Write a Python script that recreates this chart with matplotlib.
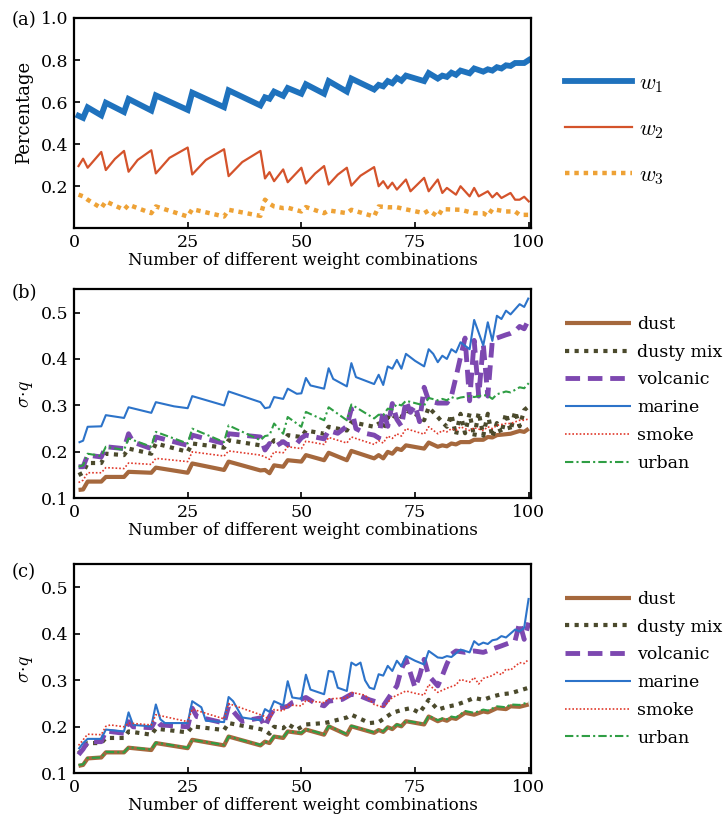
import matplotlib
matplotlib.use("Agg")
import matplotlib.pyplot as plt

# ---- panel (a): weight shares, corner points ----
w1_x = [1, 2, 3, 6, 7, 11, 12, 17, 18, 25, 26, 33, 34, 41, 42, 43, 44, 46, 47, 50, 51, 55, 56, 60, 61, 66, 67, 68, 69, 70,
        71, 72, 73, 77, 78, 80, 81, 82, 83, 84, 85, 87, 88, 90, 91, 92, 93, 94, 95, 96, 97, 99, 100]
w1_y = [0.535, 0.525, 0.575, 0.537, 0.597, 0.553, 0.615, 0.56, 0.632, 0.563, 0.645, 0.576, 0.656, 0.584, 0.623, 0.616,
        0.65, 0.63, 0.667, 0.64, 0.685, 0.64, 0.70, 0.65, 0.712, 0.66, 0.682, 0.675, 0.70, 0.69, 0.715, 0.702, 0.726,
        0.70, 0.738, 0.712, 0.726, 0.72, 0.74, 0.73, 0.75, 0.737, 0.76, 0.745, 0.756, 0.75, 0.766, 0.76, 0.775, 0.772,
        0.786, 0.786, 0.80]

w2_x = [1, 2, 3, 6, 7, 9, 11, 12, 14, 17, 18, 21, 25, 26, 29, 33, 34, 37, 41, 42, 43, 44, 46, 47, 50, 51, 53, 55, 56, 58,
        60, 61, 63, 66, 67, 68, 69, 70, 71, 73, 74, 77, 78, 80, 81, 82, 84, 85, 87, 88, 89, 91, 92, 93, 94, 96, 97, 98,
        99, 100]
w2_y = [0.296, 0.331, 0.288, 0.363, 0.277, 0.33, 0.368, 0.269, 0.325, 0.371, 0.261, 0.335, 0.384, 0.256, 0.325, 0.376,
        0.248, 0.315, 0.368, 0.237, 0.267, 0.224, 0.28, 0.219, 0.288, 0.213, 0.26, 0.296, 0.208, 0.255, 0.288, 0.203,
        0.25, 0.291, 0.20, 0.224, 0.19, 0.217, 0.184, 0.232, 0.176, 0.24, 0.176, 0.232, 0.168, 0.192, 0.16, 0.20, 0.152,
        0.192, 0.152, 0.176, 0.147, 0.168, 0.144, 0.168, 0.136, 0.136, 0.15, 0.128]

w3_x = [1, 2, 3, 6, 7, 11, 12, 17, 18, 25, 26, 33, 34, 41, 42, 43, 44, 46, 47, 50, 51, 55, 56, 60, 61, 66, 67, 69, 71, 73,
        77, 78, 80, 81, 85, 88, 90, 91, 92, 95, 97, 98, 100]
w3_y = [0.16, 0.152, 0.136, 0.096, 0.128, 0.088, 0.112, 0.072, 0.104, 0.056, 0.091, 0.056, 0.088, 0.059, 0.136, 0.117,
        0.104, 0.096, 0.098, 0.08, 0.101, 0.072, 0.085, 0.072, 0.088, 0.056, 0.104, 0.10, 0.10, 0.09, 0.072, 0.085,
        0.056, 0.091, 0.088, 0.072, 0.072, 0.059, 0.091, 0.08, 0.08, 0.064, 0.064]

# ---- panel (b) ----
b_dust_x = [1, 2, 3, 6, 7, 11, 12, 17, 18, 25, 26, 33, 34, 41, 42, 43, 44, 46, 47, 50, 51, 55, 56, 60, 61, 66, 67, 68, 69,
            70, 71, 72, 73, 77, 78, 80, 81, 82, 83, 84, 85, 87, 88, 90, 91, 92, 93, 95, 96, 98, 99, 100]
b_dust_y = [0.118, 0.119, 0.136, 0.136, 0.146, 0.146, 0.157, 0.155, 0.166, 0.155, 0.175, 0.161, 0.179, 0.16, 0.161,
            0.154, 0.171, 0.168, 0.182, 0.179, 0.193, 0.182, 0.198, 0.182, 0.202, 0.186, 0.193, 0.186, 0.20, 0.196,
            0.207, 0.204, 0.214, 0.207, 0.22, 0.211, 0.214, 0.212, 0.218, 0.216, 0.221, 0.221, 0.226, 0.226, 0.232,
            0.231, 0.236, 0.238, 0.239, 0.245, 0.243, 0.25]

b_dusty_x = [1, 2, 3, 6, 7, 11, 12, 17, 18, 25, 26, 33, 34, 41, 42, 43, 44, 46, 47, 50, 51, 55, 56, 60, 61, 66, 67, 68,
             69, 70, 71, 72, 73, 75, 77, 78, 80, 81, 82, 83, 84, 85, 86, 87, 88, 89, 90, 91, 92, 93, 94, 95, 96, 97, 98,
             99, 100]
b_dusty_y = [0.15, 0.155, 0.176, 0.176, 0.196, 0.193, 0.207, 0.196, 0.218, 0.20, 0.218, 0.209, 0.225, 0.214, 0.211,
             0.211, 0.225, 0.221, 0.236, 0.232, 0.246, 0.239, 0.254, 0.246, 0.264, 0.254, 0.261, 0.25, 0.275, 0.268,
             0.282, 0.275, 0.289, 0.282, 0.268, 0.296, 0.275, 0.264, 0.254, 0.28, 0.236, 0.282, 0.24, 0.283, 0.232,
             0.285, 0.235, 0.282, 0.232, 0.262, 0.24, 0.283, 0.245, 0.287, 0.255, 0.29, 0.298]

b_volc_x = [1, 2, 3, 6, 7, 11, 12, 13, 17, 18, 25, 26, 33, 34, 41, 42, 43, 44, 46, 47, 49, 50, 51, 53, 55, 56, 58, 60, 61,
            62, 64, 66, 67, 68, 69, 70, 71, 72, 73, 74, 75, 76, 77, 78, 80, 82, 83, 84, 85, 86, 87, 88, 89, 90, 91, 92,
            93, 95, 96, 97, 98, 99, 100]
b_volc_y = [0.168, 0.168, 0.193, 0.189, 0.211, 0.207, 0.239, 0.221, 0.207, 0.232, 0.214, 0.236, 0.218, 0.239, 0.232,
            0.204, 0.218, 0.21, 0.222, 0.215, 0.218, 0.23, 0.236, 0.232, 0.228, 0.246, 0.24, 0.255, 0.293, 0.25, 0.24,
            0.236, 0.23, 0.289, 0.255, 0.304, 0.27, 0.255, 0.31, 0.285, 0.30, 0.265, 0.339, 0.31, 0.305, 0.305, 0.32,
            0.361, 0.404, 0.445, 0.31, 0.44, 0.32, 0.432, 0.32, 0.44, 0.445, 0.452, 0.455, 0.46, 0.47, 0.465, 0.485]

b_marine_x = [1, 2, 3, 6, 7, 11, 12, 17, 18, 22, 25, 26, 33, 34, 41, 42, 43, 44, 46, 47, 49, 50, 51, 52, 55, 56, 57, 60,
              61, 62, 66, 67, 68, 69, 70, 71, 72, 73, 75, 77, 78, 79, 80, 81, 82, 83, 84, 85, 87, 88, 90, 91, 92, 93, 94,
              95, 96, 98, 99, 100]
b_marine_y = [0.22, 0.224, 0.254, 0.255, 0.279, 0.273, 0.296, 0.284, 0.307, 0.298, 0.294, 0.32, 0.30, 0.33, 0.307,
              0.294, 0.296, 0.318, 0.314, 0.336, 0.325, 0.326, 0.359, 0.343, 0.336, 0.38, 0.357, 0.341, 0.391, 0.361,
              0.346, 0.366, 0.344, 0.384, 0.379, 0.398, 0.379, 0.411, 0.396, 0.384, 0.421, 0.411, 0.393, 0.407, 0.40,
              0.421, 0.414, 0.436, 0.421, 0.484, 0.429, 0.479, 0.439, 0.493, 0.486, 0.504, 0.496, 0.518, 0.512, 0.532]

b_smoke_x = [1, 2, 3, 6, 7, 11, 12, 17, 18, 25, 26, 33, 34, 41, 42, 43, 44, 46, 47, 50, 51, 55, 56, 60, 61, 66, 67, 68,
             69, 70, 71, 72, 73, 77, 78, 80, 81, 82, 83, 84, 85, 87, 88, 90, 91, 92, 93, 95, 96, 98, 99, 100]
b_smoke_y = [0.134, 0.139, 0.155, 0.155, 0.166, 0.164, 0.176, 0.173, 0.186, 0.179, 0.20, 0.191, 0.202, 0.193, 0.189,
             0.184, 0.20, 0.198, 0.211, 0.207, 0.223, 0.216, 0.231, 0.219, 0.232, 0.216, 0.224, 0.219, 0.234, 0.229,
             0.239, 0.234, 0.25, 0.238, 0.254, 0.239, 0.246, 0.243, 0.25, 0.246, 0.254, 0.246, 0.252, 0.246, 0.254,
             0.25, 0.257, 0.261, 0.261, 0.268, 0.268, 0.271]

b_urban_x = [1, 2, 3, 6, 7, 11, 12, 17, 18, 25, 26, 33, 34, 41, 42, 43, 44, 46, 47, 50, 51, 55, 56, 60, 61, 66, 67, 68,
             69, 70, 71, 72, 73, 77, 78, 80, 81, 82, 83, 84, 85, 87, 88, 90, 91, 92, 93, 95, 96, 98, 99, 100]
b_urban_y = [0.168, 0.171, 0.196, 0.191, 0.211, 0.204, 0.229, 0.211, 0.243, 0.218, 0.25, 0.221, 0.257, 0.225, 0.234,
             0.236, 0.261, 0.239, 0.275, 0.254, 0.286, 0.268, 0.296, 0.268, 0.302, 0.272, 0.28, 0.279, 0.293, 0.291,
             0.303, 0.30, 0.31, 0.30, 0.316, 0.311, 0.314, 0.311, 0.318, 0.314, 0.317, 0.32, 0.318, 0.322, 0.321,
             0.314, 0.324, 0.33, 0.328, 0.339, 0.337, 0.348]

# ---- panel (c) ----
c_dust_x = [1, 2, 3, 6, 7, 11, 12, 17, 18, 25, 26, 33, 34, 41, 42, 43, 44, 46, 47, 50, 51, 55, 56, 60, 61, 66, 67, 68, 69,
            70, 71, 72, 73, 77, 78, 80, 81, 82, 83, 84, 86, 88, 90, 91, 93, 95, 96, 98, 100]
c_dust_y = [0.116, 0.118, 0.132, 0.134, 0.145, 0.145, 0.155, 0.15, 0.165, 0.154, 0.172, 0.16, 0.179, 0.16, 0.168, 0.165,
            0.179, 0.176, 0.19, 0.186, 0.194, 0.183, 0.201, 0.183, 0.201, 0.187, 0.193, 0.189, 0.199, 0.195, 0.204,
            0.201, 0.212, 0.205, 0.222, 0.212, 0.216, 0.213, 0.219, 0.217, 0.23, 0.226, 0.233, 0.231, 0.24, 0.238,
            0.244, 0.243, 0.248]

c_dusty_x = [1, 2, 3, 6, 7, 11, 12, 17, 18, 25, 26, 33, 34, 41, 42, 43, 44, 46, 47, 49, 51, 55, 56, 60, 61, 65, 67, 70,
             72, 74, 76, 78, 80, 82, 84, 86, 88, 90, 92, 94, 96, 98, 100]
c_dusty_y = [0.143, 0.152, 0.165, 0.165, 0.176, 0.176, 0.19, 0.183, 0.196, 0.188, 0.201, 0.193, 0.208, 0.195, 0.192,
             0.185, 0.20, 0.197, 0.206, 0.194, 0.205, 0.208, 0.21, 0.22, 0.226, 0.208, 0.21, 0.23, 0.236, 0.24, 0.23,
             0.258, 0.237, 0.243, 0.247, 0.254, 0.262, 0.258, 0.265, 0.27, 0.272, 0.278, 0.284]

c_volc_x = [1, 2, 3, 6, 7, 11, 12, 13, 17, 18, 19, 25, 26, 27, 33, 34, 36, 37, 41, 42, 43, 44, 47, 48, 51, 53, 55, 56, 59,
            61, 63, 65, 67, 68, 70, 71, 72, 73, 74, 75, 76, 77, 78, 80, 81, 82, 83, 84, 86, 88, 90, 92, 94, 97, 98, 99,
            100]
c_volc_y = [0.14, 0.152, 0.168, 0.168, 0.191, 0.186, 0.211, 0.2, 0.198, 0.216, 0.204, 0.2, 0.24, 0.222, 0.208, 0.245,
            0.222, 0.212, 0.219, 0.2, 0.222, 0.238, 0.244, 0.252, 0.263, 0.251, 0.245, 0.255, 0.259, 0.27, 0.266, 0.258,
            0.252, 0.245, 0.274, 0.288, 0.324, 0.345, 0.315, 0.284, 0.31, 0.345, 0.31, 0.288, 0.31, 0.335, 0.356,
            0.363, 0.36, 0.363, 0.36, 0.367, 0.374, 0.385, 0.424, 0.388, 0.424]

c_marine_x = [1, 2, 3, 6, 7, 11, 12, 13, 17, 18, 19, 20, 25, 26, 28, 29, 33, 34, 35, 37, 41, 42, 43, 44, 46, 47, 48, 50,
              51, 52, 55, 56, 57, 58, 60, 61, 62, 63, 64, 65, 66, 67, 68, 69, 70, 71, 72, 73, 75, 77, 78, 80, 81, 82, 83,
              85, 87, 88, 89, 90, 91, 92, 93, 94, 95, 97, 98, 99, 100]
c_marine_y = [0.152, 0.165, 0.174, 0.174, 0.194, 0.19, 0.231, 0.204, 0.201, 0.248, 0.216, 0.208, 0.208, 0.255, 0.242,
              0.213, 0.21, 0.264, 0.255, 0.22, 0.214, 0.238, 0.232, 0.255, 0.246, 0.298, 0.263, 0.26, 0.312, 0.28, 0.27,
              0.32, 0.318, 0.284, 0.277, 0.338, 0.332, 0.338, 0.30, 0.284, 0.281, 0.313, 0.31, 0.331, 0.32, 0.342, 0.33,
              0.352, 0.342, 0.334, 0.363, 0.349, 0.348, 0.352, 0.35, 0.366, 0.36, 0.384, 0.376, 0.381, 0.378, 0.386,
              0.388, 0.395, 0.392, 0.409, 0.405, 0.413, 0.477]

c_smoke_x = [1, 2, 3, 6, 7, 8, 11, 12, 17, 18, 25, 26, 33, 34, 41, 42, 43, 44, 46, 47, 50, 51, 55, 56, 60, 61, 64, 66, 68,
             70, 73, 75, 77, 78, 80, 82, 84, 85, 87, 88, 89, 90, 92, 93, 94, 95, 96, 98, 99, 100]
c_smoke_y = [0.16, 0.172, 0.184, 0.183, 0.201, 0.204, 0.2, 0.208, 0.204, 0.226, 0.211, 0.238, 0.217, 0.25, 0.226, 0.222,
             0.215, 0.237, 0.234, 0.247, 0.245, 0.256, 0.252, 0.26, 0.262, 0.274, 0.268, 0.248, 0.242, 0.263, 0.277,
             0.272, 0.268, 0.291, 0.274, 0.283, 0.29, 0.302, 0.296, 0.306, 0.292, 0.304, 0.31, 0.317, 0.312, 0.324,
             0.322, 0.338, 0.336, 0.345]

c_urban_x = c_dust_x
c_urban_y = [0.118, 0.119, 0.133, 0.134, 0.146, 0.145, 0.156, 0.151, 0.166, 0.155, 0.172, 0.161, 0.179, 0.161, 0.168,
             0.166, 0.18, 0.177, 0.19, 0.187, 0.195, 0.184, 0.202, 0.184, 0.202, 0.188, 0.194, 0.19, 0.2, 0.196, 0.205,
             0.202, 0.213, 0.206, 0.224, 0.214, 0.218, 0.216, 0.222, 0.22, 0.234, 0.23, 0.237, 0.235, 0.244, 0.242,
             0.248, 0.247, 0.253]

aerosols = ["dust", "dusty mix", "volcanic", "marine", "smoke", "urban"]
x_ticks = [0, 25, 50, 75, 100]
xlabel = "Number of different weight combinations"

# line styles (colour, width, dash)
styles = {
    "dust": dict(color="#a5683d", lw=3.0, ls="-"),
    "dusty mix": dict(color="#4b4a2c", lw=3.0, ls=(0, (1, 1.3))),
    "volcanic": dict(color="#7d48b0", lw=3.5, ls=(0, (3, 1.6))),
    "marine": dict(color="#2c73c9", lw=1.5, ls="-"),
    "smoke": dict(color="#e0392b", lw=1.2, ls=(0, (1, 1.2))),
    "urban": dict(color="#2f9e44", lw=1.5, ls=(0, (4, 1.5, 1, 1.5))),
}


def style_axes(ax, ylim, yticks):
    ax.set_xlim(0, 100.5)
    ax.set_ylim(*ylim)
    ax.set_xticks(x_ticks)
    ax.set_yticks(yticks)
    ax.tick_params(direction="in", length=4, width=1.2, top=False, right=False, labelsize=12.5, pad=4)
    for s in ax.spines.values():
        s.set_linewidth(1.6)
    ax.set_xlabel(xlabel, fontsize=12, labelpad=1)


def panel(ax, data):
    for name in aerosols:
        xs, ys = data[name]
        st = styles[name]
        ax.plot(xs, ys, color=st["color"], lw=st["lw"], linestyle=st["ls"], label=name,
                solid_capstyle="butt", dash_capstyle="butt")
    style_axes(ax, (0.1, 0.55), [0.1, 0.2, 0.3, 0.4, 0.5])
    ax.set_ylabel(r"$\sigma\!\cdot\! q$", fontsize=14)
    ax.yaxis.set_label_coords(-0.085, 0.5)
    ax.legend(loc="center left", bbox_to_anchor=(1.075, 0.50), frameon=False, fontsize=12.5,
              handlelength=3.8, labelspacing=0.62, borderpad=0, borderaxespad=0, handletextpad=0.35)


def main():
    plt.rcParams["font.family"] = ["DejaVu Serif"]
    plt.rcParams["mathtext.fontset"] = "cm"
    fig = plt.figure(figsize=(7.25, 8.23), dpi=100)

    left, width = 74 / 725, 457 / 725
    ax_a = fig.add_axes([left, 1 - 228.3 / 823, width, 210.3 / 823])
    ax_b = fig.add_axes([left, 1 - 498.3 / 823, width, 209 / 823])
    ax_c = fig.add_axes([left, 1 - 773.3 / 823, width, 209.3 / 823])

    # (a)
    ax_a.plot(w1_x, w1_y, color="#1f72bd", lw=4.2, label=r"$w_1$", solid_joinstyle="miter")
    ax_a.plot(w2_x, w2_y, color="#d4532b", lw=1.6, label=r"$w_2$")
    ax_a.plot(w3_x, w3_y, color="#eea236", lw=3.2, linestyle=(0, (1, 1.1)), label=r"$w_3$",
              dash_capstyle="butt")
    style_axes(ax_a, (0.0, 1.0), [0.2, 0.4, 0.6, 0.8, 1.0])
    ax_a.set_yticklabels(["0.2", "0.4", "0.6", "0.8", "1.0"])
    ax_a.set_ylabel("Percentage", fontsize=13)
    ax_a.yaxis.set_label_coords(-0.09, 0.55)
    ax_a.legend(loc="center left", bbox_to_anchor=(1.075, 0.47), frameon=False, fontsize=16,
                handlelength=3.0, labelspacing=1.05, borderpad=0, borderaxespad=0, handletextpad=0.3)

    # (b)
    data_b = {"dust": (b_dust_x, b_dust_y), "dusty mix": (b_dusty_x, b_dusty_y),
              "volcanic": (b_volc_x, b_volc_y), "marine": (b_marine_x, b_marine_y),
              "smoke": (b_smoke_x, b_smoke_y), "urban": (b_urban_x, b_urban_y)}
    panel(ax_b, data_b)

    # (c)
    data_c = {"dust": (c_dust_x, c_dust_y), "dusty mix": (c_dusty_x, c_dusty_y),
              "volcanic": (c_volc_x, c_volc_y), "marine": (c_marine_x, c_marine_y),
              "smoke": (c_smoke_x, c_smoke_y), "urban": (c_urban_x, c_urban_y)}
    panel(ax_c, data_c)

    fig.text(12 / 725, 1 - 20 / 823, "(a)", fontsize=13, va="center")
    fig.text(12 / 725, 1 - 293 / 823, "(b)", fontsize=13, va="center")
    fig.text(12 / 725, 1 - 572 / 823, "(c)", fontsize=13, va="center")

    fig.savefig("out.png", dpi=100)


if __name__ == "__main__":
    main()
